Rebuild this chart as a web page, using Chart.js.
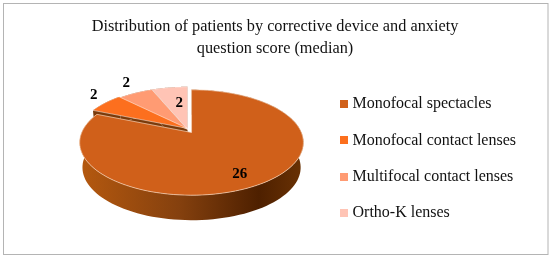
<!DOCTYPE html>
<html>
<head>
<meta charset="utf-8">
<script src="https://cdn.jsdelivr.net/npm/chart.js@4"></script>
<style>
  html, body { margin: 0; padding: 0; background: #fff; }
  #wrap { width: 550px; height: 256px; }
</style>
</head>
<body>
<div id="wrap"><canvas id="pieChart" width="550" height="256"></canvas></div>
<script>
// Datos del gráfico
const categories = ['Monofocal spectacles', 'Monofocal contact lenses', 'Multifocal contact lenses', 'Ortho-K lenses'];
const patients = [26, 2, 2, 2];
const titleLines = ['Distribution of patients by corrective device and anxiety', 'question score (median)'];
const sliceColors = ['#D0601A', '#FC6F1E', '#FF9B73', '#FFC4B5'];

// Perspectiva del disco 3D
const offX = 18.2, offY = -15.2;
const squashX = 1.138, squashY = 0.536, tilt = -0.19, apexShift = -10, depth = 25;
// Separación de cada porción y posición de su etiqueta
const explode = [[0, 0], [-4, -4], [-4, -3], [-4, -3]];
const labelDist = [0.76, 1.2, 1.25, 0.62];
const labelNudge = [[-4.5, 5], [-0.5, -7], [-1.5, -5], [-0.5, -2]];
const legendDrop = 22.5;

function project(arc, angle, r, lower) {
  const u = Math.cos(angle) * r, v = Math.sin(angle) * r;
  const w = 1 + tilt * v;
  const R = arc.outerRadius;
  const shrink = lower ? 0.975 : 1;
  return {
    x: arc.x + offX + R * squashX * Math.sqrt(1 - tilt * tilt) * shrink * u / w,
    y: arc.y + offY + (R * squashY * v + apexShift) / w + (lower ? depth : 0)
  };
}

function wedge(ctx, arc, dx, dy, lower) {
  ctx.beginPath();
  const c = project(arc, 0, 0, lower);
  ctx.moveTo(c.x + dx, c.y + dy);
  for (let i = 0; i <= 120; i++) {
    const p = project(arc, arc.startAngle + (arc.endAngle - arc.startAngle) * i / 120, 1, lower);
    ctx.lineTo(p.x + dx, p.y + dy);
  }
  ctx.closePath();
}

function wallPath(ctx, arc, dx, dy) {
  // contorno de la pared: borde superior e inferior del arco
  ctx.beginPath();
  for (let i = 0; i <= 120; i++) {
    const p = project(arc, arc.startAngle + (arc.endAngle - arc.startAngle) * i / 120, 1, false);
    if (i === 0) ctx.moveTo(p.x + dx, p.y + dy); else ctx.lineTo(p.x + dx, p.y + dy);
  }
  for (let i = 120; i >= 0; i--) {
    const p = project(arc, arc.startAngle + (arc.endAngle - arc.startAngle) * i / 120, 1, true);
    ctx.lineTo(p.x + dx, p.y + dy);
  }
  ctx.closePath();
}

const pie3d = {
  id: 'pie3d',
  afterLayout(chart) {
    // la leyenda va más abajo que el centro del lienzo
    chart.legend.top += legendDrop;
    chart.legend.bottom += legendDrop;
  },
  beforeDatasetDraw(chart) {
    const ctx = chart.ctx;
    const arcs = chart.getDatasetMeta(0).data;
    const first = arcs[0];
    const left = first.x + offX - first.outerRadius * squashX;
    const right = first.x + offX + first.outerRadius * squashX;
    const grad = ctx.createLinearGradient(left, 0, right, 0);
    grad.addColorStop(0, '#B5590F');
    grad.addColorStop(0.45, '#84400E');
    grad.addColorStop(0.8, '#4E2000');
    grad.addColorStop(1, '#6A3204');

    ctx.save();
    // primero las porciones separadas, del fondo hacia delante
    for (let i = arcs.length - 1; i >= 1; i--) {
      const [dx, dy] = explode[i];
      wedge(ctx, arcs[i], dx, dy, true);
      ctx.fillStyle = '#7A3A0A';
      ctx.fill();
      wallPath(ctx, arcs[i], dx, dy);
      ctx.fill();
    }
    for (let i = arcs.length - 1; i >= 1; i--) {
      const [dx, dy] = explode[i];
      wedge(ctx, arcs[i], dx, dy, false);
      ctx.fillStyle = sliceColors[i];
      ctx.fill();
      ctx.strokeStyle = 'rgba(255,255,255,0.7)';
      ctx.lineWidth = 0.7;
      ctx.stroke();
    }
    // porción principal
    wallPath(ctx, first, 0, 0);
    ctx.fillStyle = grad;
    ctx.fill();
    wedge(ctx, first, 0, 0, false);
    ctx.fillStyle = sliceColors[0];
    ctx.fill();
    ctx.strokeStyle = '#F6D3B8';
    ctx.lineWidth = 0.7;
    ctx.stroke();

    // etiquetas
    ctx.fillStyle = '#000';
    ctx.font = 'bold 15px "Liberation Serif"';
    ctx.textAlign = 'center';
    ctx.textBaseline = 'middle';
    arcs.forEach((arc, i) => {
      const mid = (arc.startAngle + arc.endAngle) / 2;
      const p = project(arc, mid, labelDist[i], false);
      ctx.fillText(String(patients[i]), p.x + labelNudge[i][0], p.y + labelNudge[i][1]);
    });
    ctx.restore();
    return false;
  }
};

const frame = {
  id: 'frame',
  beforeDraw(chart) {
    const ctx = chart.ctx;
    ctx.save();
    ctx.fillStyle = '#fff';
    ctx.fillRect(0, 0, chart.width, chart.height);
    ctx.strokeStyle = '#B4B4B4';
    ctx.lineWidth = 1;
    ctx.strokeRect(3.5, 3.5, 544.5, 251);
    ctx.restore();
  }
};

// Cuadrito de la leyenda como imagen, para acercar el texto
function legendSwatch(color) {
  const c = document.createElement('canvas');
  c.width = 8;
  c.height = 8;
  const g = c.getContext('2d');
  g.fillStyle = color;
  g.fillRect(0, 0, 8, 8);
  return c;
}

new Chart(document.getElementById('pieChart'), {
  type: 'pie',
  data: {
    labels: categories,
    datasets: [{ data: patients, backgroundColor: sliceColors, borderWidth: 0 }]
  },
  options: {
    responsive: false,
    animation: false,
    layout: { padding: { left: 24, right: 24, top: 16, bottom: 0 } },
    plugins: {
      tooltip: { enabled: false },
      title: {
        display: true,
        text: titleLines,
        color: '#111',
        font: { family: '"Liberation Serif"', size: 16.3, weight: 'normal', lineHeight: 1.33 },
        padding: { top: 0, bottom: 0 }
      },
      legend: {
        position: 'right',
        labels: {
          color: '#111',
          font: { family: '"Liberation Serif"', size: 16 },
          usePointStyle: true,
          boxWidth: 1.5,
          boxHeight: 8,
          padding: 20.3,
          generateLabels: () => categories.map((text, i) => ({
            text: text,
            fontColor: '#111',
            pointStyle: legendSwatch(sliceColors[i]),
            lineWidth: 0,
            hidden: false,
            index: i
          }))
        }
      }
    }
  },
  plugins: [frame, pie3d]
});
</script>
</body>
</html>
